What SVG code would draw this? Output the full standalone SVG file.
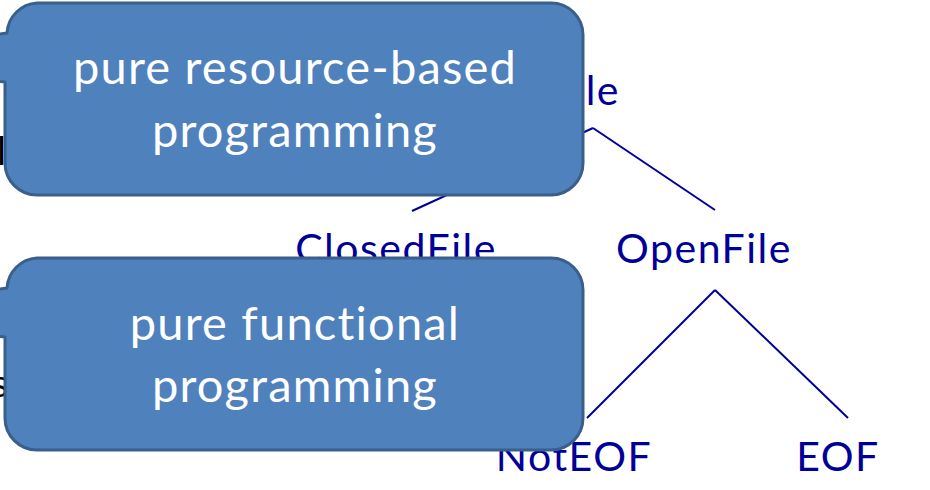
<svg xmlns="http://www.w3.org/2000/svg" width="930" height="490" viewBox="0 0 930 490">
  <style>
    .node { font-family: Lato, "Liberation Sans", sans-serif; font-size: 41px; letter-spacing: 1.5px; fill: #000099; text-anchor: middle; }
    .edge { stroke: #000099; stroke-width: 2; fill: none; }
    .callout { fill: #4F81BD; stroke: #3A5F8B; stroke-width: 3; stroke-linejoin: round; }
    .callout-text { font-family: Lato, "Liberation Sans", sans-serif; font-size: 47px; letter-spacing: 1.2px; fill: #FFFFFF; text-anchor: middle; }
    .edge-text { font-family: Lato, "Liberation Sans", sans-serif; font-size: 38px; fill: #000000; }
  </style>

  <rect x="0" y="0" width="930" height="490" fill="#FFFFFF"/>

  <!-- text fragments at the left edge -->
  <text class="edge-text" x="-3" y="165">l</text>
  <text class="edge-text" x="-8" y="397">s</text>

  <!-- tree connectors -->
  <g id="connectors">
    <line class="edge" x1="593" y1="128" x2="715" y2="210"/>
    <line class="edge" x1="593" y1="128" x2="412" y2="211"/>
    <line class="edge" x1="715" y1="290" x2="587" y2="418"/>
    <line class="edge" x1="715" y1="290" x2="848" y2="418"/>
  </g>

  <!-- tree nodes -->
  <g id="node-file"><text class="node" x="620" y="105" style="text-anchor:end">File</text></g>
  <g id="node-closedfile"><text class="node" x="396" y="263">ClosedFile</text></g>
  <g id="node-openfile"><text class="node" x="704" y="263">OpenFile</text></g>
  <g id="node-noteof"><text class="node" x="574" y="471">NotEOF</text></g>
  <g id="node-eof"><text class="node" x="838" y="471">EOF</text></g>

  <!-- callout: pure resource-based programming -->
  <g id="callout-resource">
    <path class="callout" d="M37,3 H551 A32,32 0 0 1 583,35 V163 A32,32 0 0 1 551,195 H37 A32,32 0 0 1 5,163 V82 L-200,60 L7,33 A32,32 0 0 1 37,3 Z"/>
    <text class="callout-text" x="295" y="84">pure resource-based</text>
    <text class="callout-text" x="295" y="147">programming</text>
  </g>

  <!-- callout: pure functional programming -->
  <g id="callout-functional">
    <path class="callout" d="M37,258 H551 A32,32 0 0 1 583,290 V418 A32,32 0 0 1 551,450 H37 A32,32 0 0 1 5,418 V337 L-200,315 L7,288 A32,32 0 0 1 37,258 Z"/>
    <text class="callout-text" x="295" y="340">pure functional</text>
    <text class="callout-text" x="295" y="402">programming</text>
  </g>
</svg>
